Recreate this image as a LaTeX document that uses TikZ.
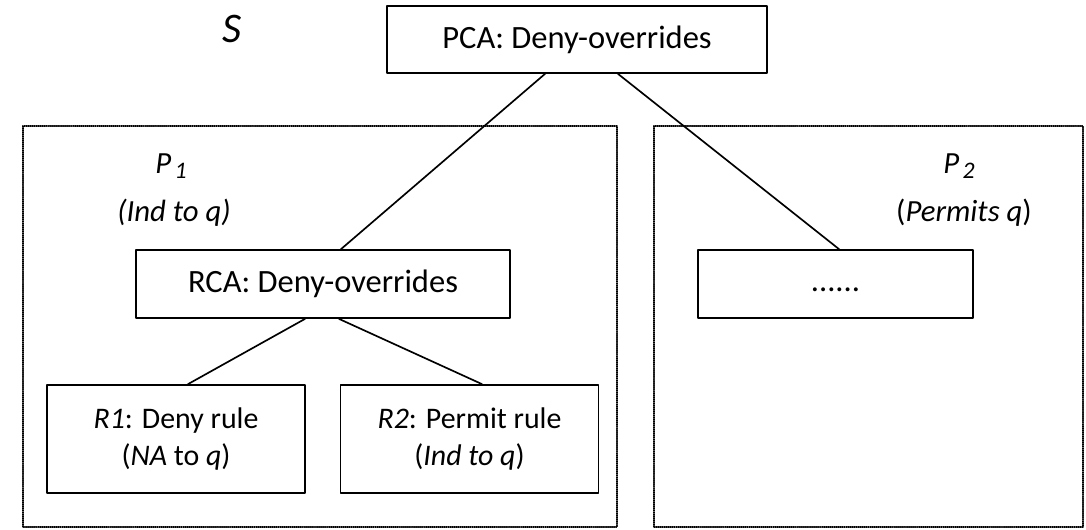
\documentclass[tikz,border=0pt]{standalone}
\usepackage{fontspec}
\setmainfont{Carlito}
\newcommand{\polname}[1]{\textit{P}\hspace{2pt}\raisebox{-3pt}{\fontsize{13.5}{13.5}\selectfont\itshape #1}}

\begin{document}
\begin{tikzpicture}[line cap=round,line join=round,
    box/.style={draw,line width=1pt,minimum height=1.36cm,align=center,
      font=\fontsize{18.5}{22}\selectfont,inner sep=0pt},
    rulebox/.style={box,minimum width=5.16cm,minimum height=2.16cm,
      font=\fontsize{17}{21.5}\selectfont},
    group/.style={line width=0.6pt,dash pattern=on 0.55pt off 0.6pt},
    lbl/.style={font=\fontsize{17.5}{21}\selectfont\itshape,inner sep=0pt},
    edge/.style={line width=0.95pt}]
  \useasboundingbox (0,0) rectangle (21.72,10.58);
  % policy set
  \node[lbl,font=\fontsize{24}{28}\selectfont\itshape] (s) at (4.64,10.01) {S};
  \node[box,minimum width=7.60cm,minimum height=1.34cm] (pca) at (11.54,9.79)
    {PCA: Deny-overrides};
  % policies
  \draw[group] (0.46,0.04) rectangle (12.34,8.06);
  \draw[group] (13.08,0.04) rectangle (21.66,8.06);
  \node[lbl] (p1) at (3.42,7.26) {\polname{1}};
  \node[lbl] (p1q) at (3.48,6.32) {(Ind to q)};
  \node[lbl] (p2) at (19.18,7.26) {\polname{2}};
  \node[lbl] (p2q) at (19.28,6.32) {\upshape(\itshape Permits q\upshape)};
  \node[box,minimum width=7.48cm] (rca) at (6.46,4.90) {RCA: Deny-overrides};
  \node[box,minimum width=5.50cm,text height=9pt] (more) at (16.71,4.90) {......};
  % rules
  \node[rulebox] (r1) at (3.52,1.80)
    {\textit{R1}: Deny rule\\(\textit{NA} to \textit{q})};
  \node[rulebox] (r2) at (9.39,1.80)
    {\textit{R2}: Permit rule\\(\textit{Ind to q})};
  \draw[edge] ([xshift=-0.64cm]pca.south) -- ([xshift=0.36cm]rca.north);
  \draw[edge] ([xshift=0.82cm]pca.south) -- ([xshift=0.07cm]more.north);
  \draw[edge] ([xshift=-0.36cm]rca.south) -- ([xshift=0.24cm]r1.north);
  \draw[edge] ([xshift=0.32cm]rca.south) -- ([xshift=0.25cm]r2.north);
\end{tikzpicture}
\end{document}
